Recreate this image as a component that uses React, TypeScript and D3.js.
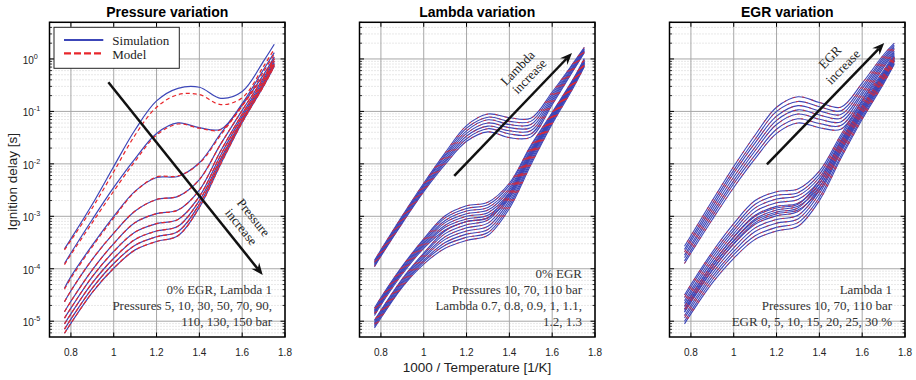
import React from 'react';
import * as d3 from 'd3';

// ---------- data (log10 of ignition delay in seconds) ----------
const X_GRID = [0.77, 0.8, 0.9, 1.0, 1.1, 1.2, 1.3, 1.4, 1.5, 1.6, 1.7, 1.75];

const X_TICKS = [0.8, 1.0, 1.2, 1.4, 1.6, 1.8];
const X_TICK_LABELS = ['0.8', '1', '1.2', '1.4', '1.6', '1.8'];
const Y_DECADES = [-5, -4, -3, -2, -1, 0];

const PRESSURES_P1 = [5, 10, 30, 50, 70, 90, 110, 130, 150];
const P1_SIM = [
  [-3.62, -3.43, -2.77, -2.05, -1.35, -0.8, -0.56, -0.54, -0.75, -0.62, -0.04, 0.28],
  [-3.9, -3.7, -3.06, -2.45, -1.9, -1.42, -1.22, -1.31, -1.34, -0.85, -0.2, 0.12],
  [-4.37, -4.15, -3.55, -3.0, -2.52, -2.26, -2.24, -1.98, -1.42, -0.88, -0.3, 0.04],
  [-4.63, -4.42, -3.82, -3.32, -2.9, -2.68, -2.62, -2.3, -1.62, -0.98, -0.36, 0.0],
  [-4.82, -4.62, -4.02, -3.52, -3.12, -2.95, -2.88, -2.5, -1.75, -1.05, -0.4, -0.04],
  [-4.94, -4.75, -4.15, -3.67, -3.3, -3.14, -3.06, -2.62, -1.83, -1.1, -0.44, -0.07],
  [-5.05, -4.86, -4.27, -3.8, -3.44, -3.28, -3.19, -2.7, -1.9, -1.15, -0.47, -0.1],
  [-5.15, -4.96, -4.37, -3.9, -3.55, -3.39, -3.29, -2.77, -1.95, -1.18, -0.5, -0.12],
  [-5.23, -5.04, -4.45, -3.99, -3.64, -3.48, -3.37, -2.83, -2.0, -1.21, -0.52, -0.14],
];
const P1_MODEL = [
  [-3.64, -3.46, -2.84, -2.15, -1.45, -0.92, -0.68, -0.68, -0.87, -0.74, -0.14, 0.19],
  [-3.92, -3.73, -3.12, -2.52, -1.95, -1.45, -1.24, -1.32, -1.35, -0.88, -0.24, 0.09],
  [-4.39, -4.18, -3.58, -3.03, -2.53, -2.25, -2.23, -1.99, -1.45, -0.9, -0.32, 0.02],
  P1_SIM[3], P1_SIM[4], P1_SIM[5], P1_SIM[6], P1_SIM[7], P1_SIM[8],
];

const LAMBDAS = [0.7, 0.8, 0.9, 1.0, 1.1, 1.2, 1.3];
const P2_SIM_10BAR = [
  [-3.96, -3.76, -3.13, -2.53, -2.01, -1.57, -1.39, -1.5, -1.49, -0.87, -0.21, 0.12],
  [-3.94, -3.74, -3.11, -2.5, -1.97, -1.52, -1.33, -1.43, -1.43, -0.83, -0.19, 0.14],
  [-3.92, -3.72, -3.08, -2.48, -1.94, -1.47, -1.28, -1.37, -1.37, -0.79, -0.16, 0.15],
  [-3.9, -3.7, -3.06, -2.45, -1.9, -1.42, -1.22, -1.31, -1.31, -0.75, -0.14, 0.17],
  [-3.88, -3.68, -3.04, -2.42, -1.86, -1.37, -1.16, -1.25, -1.25, -0.71, -0.12, 0.19],
  [-3.86, -3.66, -3.01, -2.4, -1.83, -1.32, -1.11, -1.19, -1.19, -0.67, -0.09, 0.2],
  [-3.84, -3.64, -2.99, -2.37, -1.79, -1.27, -1.05, -1.12, -1.13, -0.63, -0.07, 0.22],
];
const P2_SIM_70BAR = [
  [-4.89, -4.69, -4.1, -3.61, -3.26, -3.1, -3.03, -2.64, -1.86, -1.17, -0.49, -0.09],
  [-4.86, -4.66, -4.07, -3.58, -3.21, -3.05, -2.98, -2.59, -1.82, -1.14, -0.47, -0.07],
  [-4.84, -4.64, -4.05, -3.55, -3.17, -3.0, -2.93, -2.55, -1.79, -1.12, -0.45, -0.06],
  [-4.82, -4.62, -4.02, -3.52, -3.12, -2.95, -2.88, -2.5, -1.75, -1.09, -0.43, -0.04],
  [-4.8, -4.6, -4.0, -3.49, -3.08, -2.9, -2.83, -2.46, -1.72, -1.07, -0.41, -0.02],
  [-4.78, -4.58, -3.97, -3.46, -3.03, -2.85, -2.78, -2.41, -1.68, -1.04, -0.39, -0.01],
  [-4.75, -4.55, -3.95, -3.43, -2.99, -2.8, -2.73, -2.37, -1.65, -1.02, -0.37, 0.01],
];
const P2_SIM_110BAR = [
  [-5.13, -4.94, -4.35, -3.91, -3.61, -3.46, -3.36, -2.85, -2.02, -1.24, -0.54, -0.15],
  [-5.1, -4.91, -4.33, -3.87, -3.55, -3.4, -3.31, -2.8, -1.98, -1.21, -0.51, -0.13],
  [-5.08, -4.89, -4.3, -3.84, -3.5, -3.34, -3.25, -2.75, -1.94, -1.18, -0.49, -0.12],
  [-5.05, -4.86, -4.27, -3.8, -3.44, -3.28, -3.19, -2.7, -1.9, -1.15, -0.47, -0.1],
  [-5.03, -4.84, -4.24, -3.77, -3.39, -3.22, -3.13, -2.65, -1.86, -1.12, -0.45, -0.08],
  [-5.0, -4.81, -4.21, -3.73, -3.33, -3.16, -3.07, -2.6, -1.82, -1.09, -0.43, -0.07],
  [-4.98, -4.79, -4.19, -3.7, -3.28, -3.1, -3.02, -2.55, -1.78, -1.06, -0.4, -0.05],
];

const EGRS = [0, 5, 10, 15, 20, 25, 30];
const P3_SIM_10BAR = [
  [-3.9, -3.7, -3.06, -2.45, -1.9, -1.42, -1.22, -1.31, -1.34, -0.79, -0.16, 0.12],
  [-3.85, -3.65, -3.0, -2.38, -1.83, -1.34, -1.14, -1.23, -1.27, -0.74, -0.12, 0.15],
  [-3.79, -3.59, -2.94, -2.32, -1.75, -1.25, -1.05, -1.15, -1.2, -0.68, -0.08, 0.18],
  [-3.74, -3.54, -2.88, -2.25, -1.68, -1.17, -0.97, -1.07, -1.13, -0.63, -0.04, 0.21],
  [-3.68, -3.48, -2.82, -2.18, -1.6, -1.09, -0.89, -0.99, -1.06, -0.57, 0.0, 0.24],
  [-3.63, -3.43, -2.76, -2.12, -1.53, -1.0, -0.81, -0.91, -0.99, -0.52, 0.04, 0.27],
  [-3.57, -3.37, -2.7, -2.05, -1.45, -0.92, -0.72, -0.83, -0.92, -0.46, 0.08, 0.3],
];
const P3_SIM_70BAR = [
  [-4.82, -4.62, -4.02, -3.52, -3.12, -2.95, -2.88, -2.5, -1.75, -1.05, -0.4, -0.04],
  [-4.77, -4.57, -3.96, -3.46, -3.05, -2.88, -2.81, -2.44, -1.7, -1.01, -0.37, -0.02],
  [-4.71, -4.51, -3.91, -3.39, -2.98, -2.81, -2.75, -2.38, -1.65, -0.97, -0.34, 0.01],
  [-4.66, -4.46, -3.85, -3.33, -2.91, -2.74, -2.68, -2.32, -1.6, -0.93, -0.31, 0.03],
  [-4.61, -4.41, -3.79, -3.27, -2.84, -2.67, -2.61, -2.26, -1.55, -0.89, -0.28, 0.05],
  [-4.55, -4.35, -3.73, -3.21, -2.77, -2.6, -2.55, -2.2, -1.5, -0.85, -0.25, 0.07],
  [-4.5, -4.3, -3.68, -3.14, -2.7, -2.53, -2.48, -2.14, -1.45, -0.81, -0.22, 0.1],
];
const P3_SIM_110BAR = [
  [-5.05, -4.86, -4.27, -3.8, -3.44, -3.28, -3.19, -2.7, -1.9, -1.15, -0.47, -0.1],
  [-5.0, -4.81, -4.21, -3.73, -3.37, -3.21, -3.12, -2.64, -1.85, -1.11, -0.44, -0.08],
  [-4.94, -4.75, -4.15, -3.67, -3.29, -3.13, -3.05, -2.57, -1.79, -1.07, -0.41, -0.05],
  [-4.89, -4.7, -4.09, -3.6, -3.22, -3.06, -2.98, -2.51, -1.74, -1.02, -0.38, -0.03],
  [-4.83, -4.64, -4.03, -3.53, -3.15, -2.99, -2.91, -2.45, -1.69, -0.98, -0.35, -0.01],
  [-4.78, -4.59, -3.97, -3.47, -3.08, -2.92, -2.84, -2.38, -1.64, -0.94, -0.32, 0.02],
  [-4.72, -4.53, -3.91, -3.4, -3.0, -2.84, -2.77, -2.32, -1.58, -0.9, -0.29, 0.04],
];

const TITLES = ['Pressure variation', 'Lambda variation', 'EGR variation'];
const NOTES = [
  ['0% EGR, Lambda 1', 'Pressures 5, 10, 30, 50, 70, 90,', '110, 130, 150 bar'],
  ['0% EGR', 'Pressures 10, 70, 110 bar', 'Lambda 0.7, 0.8, 0.9, 1, 1.1,', '1.2, 1.3'],
  ['Lambda 1', 'Pressures 10, 70, 110 bar', 'EGR 0, 5, 10, 15, 20, 25, 30 %'],
];
// arrows: [x1, log10 y1, x2, log10 y2]
const ARROWS = [
  [0.975, -0.443, 1.696, -4.12],
  [1.1425, -2.23, 1.6925, 0.114],
  [1.155, -2.01, 1.703, 0.304],
];
const ARROW_TEXT = [
  [['Pressure', 1.648, -3.04], ['increase', 1.591, -3.22]],
  [['Lambda', 1.443, -0.19], ['increase', 1.498, -0.35]],
  [['EGR', 1.454, 0.013], ['increase', 1.515, -0.17]],
];

// ---------- layout ----------
const W = 916;
const H = 380;
const PANEL_LEFTS = [49.5, 359.5, 669.5];
const PANEL_W = 235.5;
const TOP = 22.3;
const BOTTOM = 337;
const BLUE = '#3c46b8';
const RED = '#e8262b';
const SANS = '"Liberation Sans", Arial, sans-serif';
const SERIF = '"Liberation Serif", "Times New Roman", serif';

const yScale = d3.scaleLog().domain([5e-6, 5]).range([BOTTOM, TOP]);
const yOf = (lg: number) => yScale(Math.pow(10, lg));

function Arrow({ x1, y1, x2, y2 }: { x1: number; y1: number; x2: number; y2: number }) {
  const ang = Math.atan2(y2 - y1, x2 - x1);
  const L = 12, hw = 5, notch = 4;
  const c = Math.cos(ang), s = Math.sin(ang);
  const pt = (u: number, v: number) => [x2 + u * c - v * s, y2 + u * s + v * c];
  const a = pt(-L, -hw), b = pt(-L + notch, 0), d = pt(-L, hw);
  return (
    <g>
      <line x1={x1} y1={y1} x2={b[0]} y2={b[1]} stroke="#111" strokeWidth={2.5} />
      <path d={`M${x2},${y2}L${a[0]},${a[1]}L${b[0]},${b[1]}L${d[0]},${d[1]}Z`} fill="#111" />
    </g>
  );
}

function Panel({ idx, sims, models }: { idx: number; sims: number[][]; models: number[][] }) {
  const left = PANEL_LEFTS[idx];
  const right = left + PANEL_W;
  const xs = d3.scaleLinear().domain([0.7, 1.8]).range([left, right]);
  const line = d3
    .line<number>()
    .x((_, i) => xs(X_GRID[i]))
    .y((v) => yOf(v))
    .curve(d3.curveCatmullRom.alpha(0.5));

  const minors: number[] = [];
  for (let e = -6; e <= 0; e++) {
    for (let m = 2; m <= 9; m++) {
      const v = m * Math.pow(10, e);
      if (v >= 5e-6 && v <= 5) minors.push(v);
    }
  }
  const clipId = `clip${idx}`;
  const ar = ARROWS[idx];
  const ang = (Math.atan2(yOf(ar[3]) - yOf(ar[1]), xs(ar[2]) - xs(ar[0])) * 180) / Math.PI;
  const notes = NOTES[idx];
  const noteBase = 325.7 - (notes.length - 1) * 16;
  const dense = idx > 0;

  return (
    <g>
      <defs>
        <clipPath id={clipId}>
          <rect x={left} y={TOP} width={PANEL_W} height={BOTTOM - TOP} />
        </clipPath>
      </defs>
      <rect x={left} y={TOP} width={PANEL_W} height={BOTTOM - TOP} fill="#fff" />
      {/* minor grid */}
      {minors.map((v, i) => (
        <line key={'mg' + i} x1={left} x2={right} y1={yScale(v)} y2={yScale(v)} stroke="#c4c4c4" strokeWidth={0.8} strokeDasharray="1,2" />
      ))}
      {/* major grid */}
      {Y_DECADES.map((e) => (
        <line key={'yg' + e} x1={left} x2={right} y1={yOf(e)} y2={yOf(e)} stroke="#a8a8a8" strokeWidth={1} />
      ))}
      {X_TICKS.map((t) => (
        <line key={'xg' + t} x1={xs(t)} x2={xs(t)} y1={TOP} y2={BOTTOM} stroke="#a8a8a8" strokeWidth={1} />
      ))}
      {/* curves */}
      <g clipPath={`url(#${clipId})`}>
        {sims.map((c, i) => (
          <path key={'s' + i} d={line(c) || ''} fill="none" stroke={BLUE} strokeWidth={dense ? 1.1 : 1.2} />
        ))}
        {models.map((c, i) => (
          <path
            key={'m' + i}
            d={line(c) || ''}
            fill="none"
            stroke={RED}
            strokeWidth={dense ? 0.8 : 1.2}
            strokeDasharray={dense ? '2.5,7' : '4,3'}
            strokeDashoffset={dense ? i * 2.3 : 0}
          />
        ))}
      </g>
      {/* ticks */}
      {Y_DECADES.map((e) => (
        <g key={'yt' + e}>
          <line x1={left} x2={left + 4.5} y1={yOf(e)} y2={yOf(e)} stroke="#000" strokeWidth={1} />
          <line x1={right} x2={right - 4.5} y1={yOf(e)} y2={yOf(e)} stroke="#000" strokeWidth={1} />
        </g>
      ))}
      {minors.map((v, i) => (
        <g key={'mt' + i}>
          <line x1={left} x2={left + 2.5} y1={yScale(v)} y2={yScale(v)} stroke="#000" strokeWidth={0.8} />
          <line x1={right} x2={right - 2.5} y1={yScale(v)} y2={yScale(v)} stroke="#000" strokeWidth={0.8} />
        </g>
      ))}
      {X_TICKS.map((t) => (
        <g key={'xt' + t}>
          <line x1={xs(t)} x2={xs(t)} y1={BOTTOM} y2={BOTTOM - 4.5} stroke="#000" strokeWidth={1} />
          <line x1={xs(t)} x2={xs(t)} y1={TOP} y2={TOP + 4.5} stroke="#000" strokeWidth={1} />
        </g>
      ))}
      {/* frame */}
      <rect x={left} y={TOP} width={PANEL_W} height={BOTTOM - TOP} fill="none" stroke="#000" strokeWidth={1.5} />
      {/* x tick labels */}
      {X_TICKS.map((t, i) => (
        <text key={'xl' + t} x={xs(t)} y={355.7} textAnchor="middle" fontFamily={SANS} fontSize={10} fill="#222">
          {X_TICK_LABELS[i]}
        </text>
      ))}
      {/* y tick labels */}
      {idx === 0 &&
        Y_DECADES.map((e) => (
          <text key={'yl' + e} x={22.7} y={yOf(e) + 4.8} fontFamily={SANS} fontSize={10} fill="#222">
            10
            <tspan dy={-5} fontSize={7.2}>
              {String(e)}
            </tspan>
          </text>
        ))}
      {/* title */}
      <text x={(left + right) / 2} y={16.5} textAnchor="middle" fontFamily={SANS} fontWeight="bold" fontSize={14} fill="#000">
        {TITLES[idx]}
      </text>
      {/* notes */}
      {notes.map((t, i) => (
        <text key={'n' + i} x={right - 13} y={noteBase + i * 16} textAnchor="end" fontFamily={SERIF} fontSize={13} fill="#333">
          {t}
        </text>
      ))}
      {/* arrow */}
      <Arrow x1={xs(ar[0])} y1={yOf(ar[1])} x2={xs(ar[2])} y2={yOf(ar[3])} />
      {ARROW_TEXT[idx].map(([t, x, lg], i) => (
        <text
          key={'at' + i}
          transform={`translate(${xs(x as number)},${yOf(lg as number)}) rotate(${ang})`}
          textAnchor="middle"
          dominantBaseline="middle"
          fontFamily={SERIF}
          fontSize={13}
          fill="#222"
        >
          {t as string}
        </text>
      ))}
      {/* legend */}
      {idx === 0 && (
        <g>
          <rect x={54} y={27.3} width={125.3} height={41} fill="#fff" stroke="#222" strokeWidth={1} />
          <line x1={64} x2={103.3} y1={40} y2={40} stroke={BLUE} strokeWidth={2.2} />
          <line x1={64} x2={103.3} y1={53.3} y2={53.3} stroke={RED} strokeWidth={2.2} strokeDasharray="7,3" />
          <text x={112.3} y={44.7} fontFamily={SERIF} fontSize={13} fill="#222">
            Simulation
          </text>
          <text x={112.3} y={58.7} fontFamily={SERIF} fontSize={13} fill="#222">
            Model
          </text>
        </g>
      )}
    </g>
  );
}

export default function App() {
  const p2 = [...P2_SIM_10BAR, ...P2_SIM_70BAR, ...P2_SIM_110BAR];
  const p3 = [...P3_SIM_10BAR, ...P3_SIM_70BAR, ...P3_SIM_110BAR];
  return (
    <svg
      width={W}
      height={H}
      viewBox={`0 0 ${W} ${H}`}
      style={{ position: 'absolute', left: 0, top: 0, background: '#fff' }}
    >
      <rect x={0} y={0} width={W} height={H} fill="#fff" />
      <Panel idx={0} sims={P1_SIM} models={P1_MODEL} />
      <Panel idx={1} sims={p2} models={p2} />
      <Panel idx={2} sims={p3} models={p3} />
      <text transform="translate(16.7,181.7) rotate(-90)" textAnchor="middle" fontFamily={SANS} fontSize={13.5} fill="#222">
        Ignition delay [s]
      </text>
      <text x={477} y={372} textAnchor="middle" fontFamily={SANS} fontSize={13.5} fill="#222">
        1000 / Temperature [1/K]
      </text>
    </svg>
  );
}
